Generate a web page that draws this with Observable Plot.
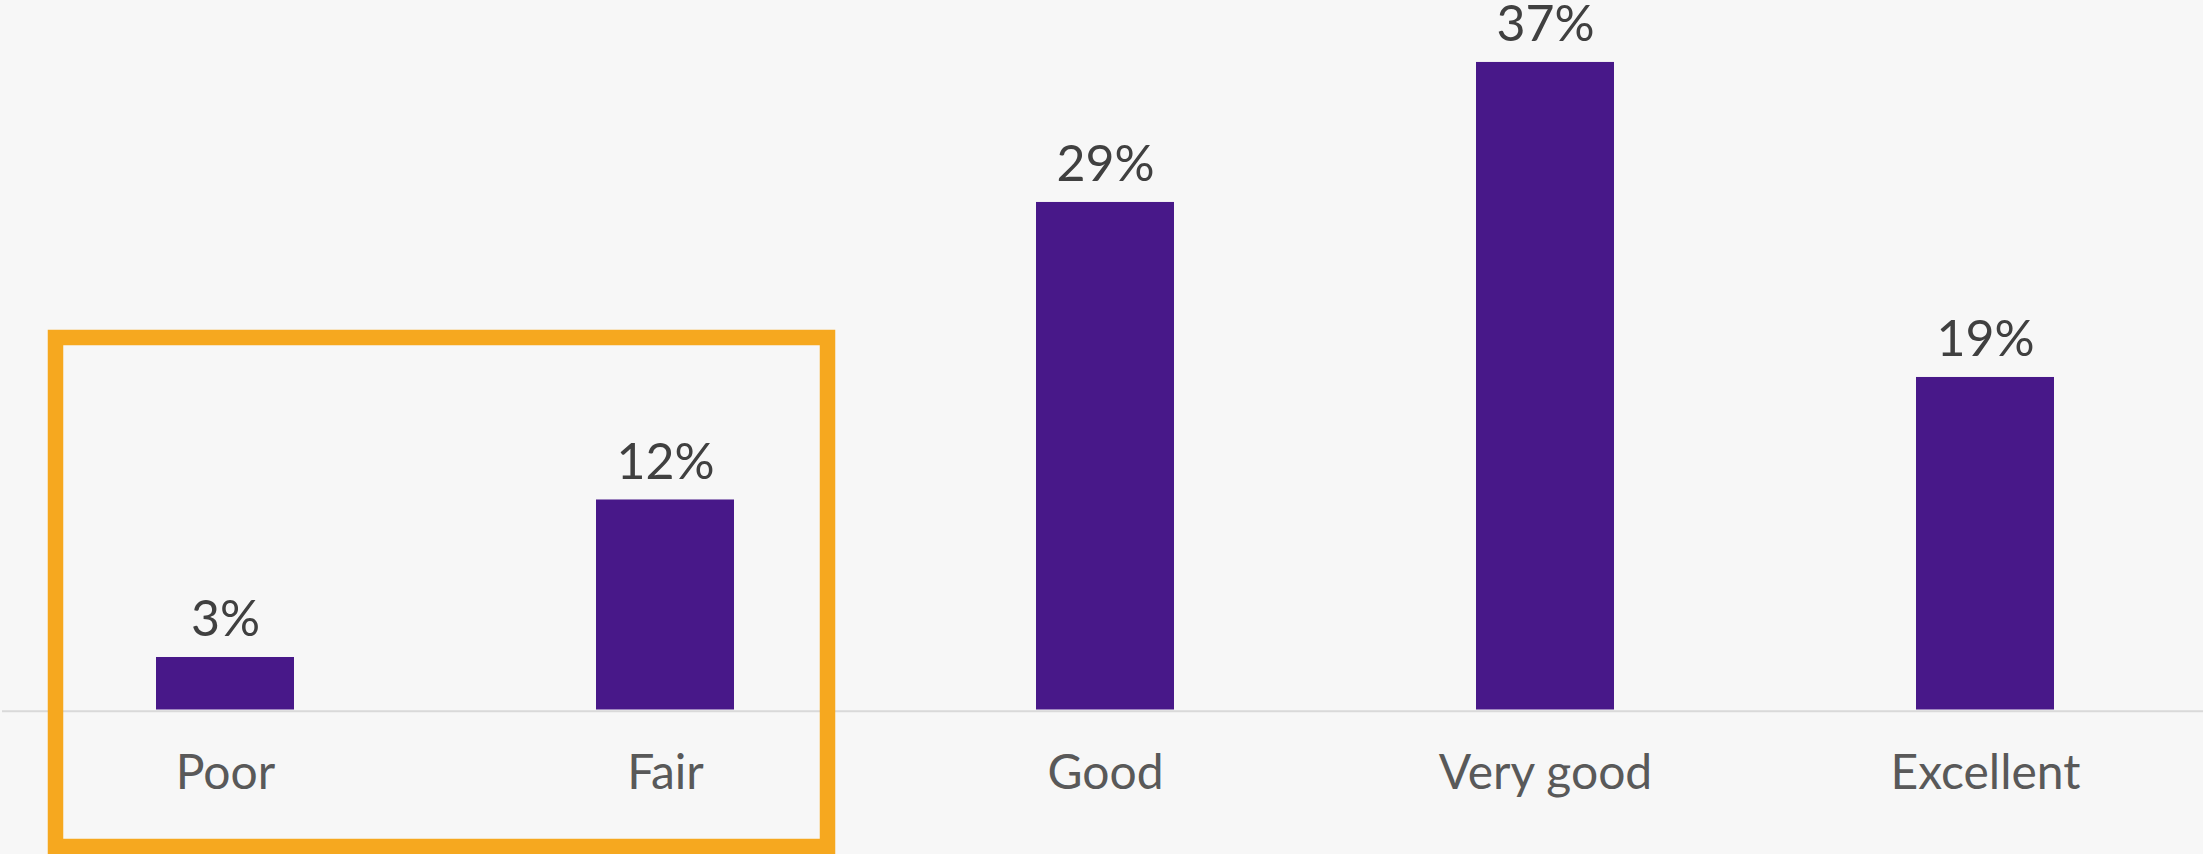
<!DOCTYPE html>
<html>
<head>
<meta charset="utf-8">
<script src="https://cdn.jsdelivr.net/npm/d3@7"></script>
<script src="https://cdn.jsdelivr.net/npm/@observablehq/plot@0.6"></script>
<style>
  html, body { margin: 0; padding: 0; background: #f7f7f7; }
  #chart svg { display: block; }
</style>
</head>
<body>
<div id="chart"></div>
<script>
// ---- data ----
const categories = ["Poor", "Fair", "Good", "Very good", "Excellent"];
const values = [3, 12, 29, 37, 19];
const valueLabels = ["3%", "12%", "29%", "37%", "19%"];
const highlighted = ["Poor", "Fair"];

const data = categories.map((c, i) => ({ category: c, value: values[i], label: valueLabels[i] }));

const FONT = "'Century Gothic', 'URW Gothic', Lato, 'DejaVu Sans', sans-serif";

// highlight box drawn from the x scale of the highlighted categories
function highlightBox(index, scales, vals, dimensions) {
  const x = scales.x;
  const bw = x.bandwidth ? x.bandwidth() : 138;
  const left = x(highlighted[0]) - 100.5;
  const right = x(highlighted[highlighted.length - 1]) + bw + 93.5;
  const top = 337.5;
  const bottom = dimensions.height - 7.5;
  const g = d3.create("svg:g");
  g.append("rect")
    .attr("x", left).attr("y", top)
    .attr("width", right - left).attr("height", bottom - top)
    .attr("fill", "none")
    .attr("stroke", "#F6A81F")
    .attr("stroke-width", 15.5);
  return g.node();
}

const chart = Plot.plot({
  width: 2203,
  height: 854,
  marginTop: 0,
  marginBottom: 144.5,
  marginLeft: 2,
  marginRight: 0,
  style: { background: "#f7f7f7", fontFamily: FONT, overflow: "visible" },
  x: { domain: categories, range: [3, 2206], paddingInner: 0.687, paddingOuter: 0.3435, align: 0.5 },
  y: { domain: [0, 40.54], axis: null },
  marks: [
    Plot.barY(data, { x: "category", y: "value", fill: "#481889" }),
    Plot.ruleY([0], { stroke: "#d9d9d9", strokeWidth: 2, dy: 1.2 }),
    Plot.text(data, {
      x: "category", y: "value", text: "label",
      lineAnchor: "bottom", dy: -21,
      fontSize: 50, fill: "#404040", textAnchor: "middle"
    }),
    Plot.axisX({ tickSize: 0, tickPadding: 45.4, fontSize: 48, color: "#595959", label: null }),
    highlightBox
  ]
});

document.getElementById("chart").appendChild(chart);
</script>
</body>
</html>
